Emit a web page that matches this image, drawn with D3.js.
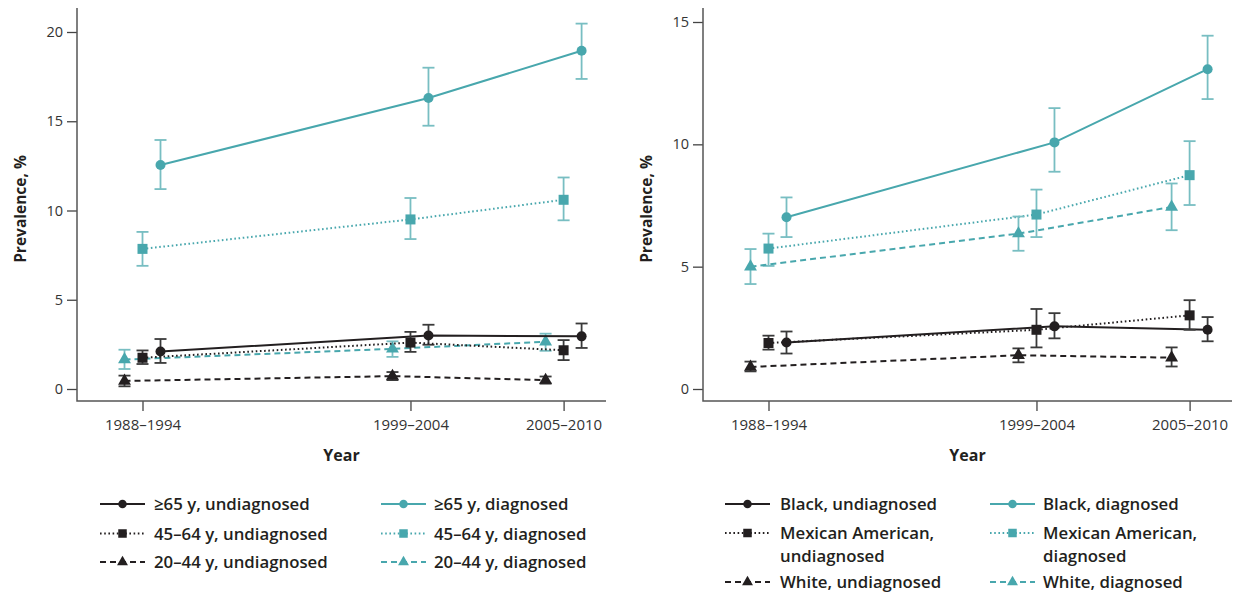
<!DOCTYPE html>
<html><head><meta charset="utf-8">
<script src="https://cdn.jsdelivr.net/npm/d3@7"></script>
<style>
body{margin:0;background:#fff;}
text{font-family:"Open Sans",sans-serif;}
</style>
</head><body>
<svg id="chart" width="1234" height="592"></svg>
<script>
// ---------- data ----------
const periods = ["1988–1994", "1999–2004", "2005–2010"];
const periodMid = [1991, 2001.5, 2007.5];
const leftTicks = [0, 5, 10, 15, 20];
const rightTicks = [0, 5, 10, 15];

// Left panel: age groups
const age65Undiag = [2.1, 3.0, 2.95];
const age65UndiagLo = [1.46, 2.48, 2.3];
const age65UndiagHi = [2.8, 3.6, 3.67];
const age45Undiag = [1.75, 2.6, 2.17];
const age45UndiagLo = [1.4, 2.08, 1.62];
const age45UndiagHi = [2.16, 3.2, 2.74];
const age20Undiag = [0.45, 0.72, 0.5];
const age20UndiagLo = [0.15, 0.5, 0.3];
const age20UndiagHi = [0.75, 0.95, 0.7];
const age65Diag = [12.55, 16.3, 18.95];
const age65DiagLo = [11.2, 14.75, 17.37];
const age65DiagHi = [13.95, 18.0, 20.47];
const age45Diag = [7.85, 9.5, 10.6];
const age45DiagLo = [6.9, 8.4, 9.45];
const age45DiagHi = [8.8, 10.7, 11.85];
const age20Diag = [1.65, 2.25, 2.65];
const age20DiagLo = [1.12, 1.8, 2.14];
const age20DiagHi = [2.2, 2.67, 3.1];

// Right panel: race/ethnicity
const blackUndiag = [1.9, 2.56, 2.42];
const blackUndiagLo = [1.45, 2.07, 1.95];
const blackUndiagHi = [2.35, 3.1, 2.94];
const mexUndiag = [1.88, 2.42, 3.01];
const mexUndiagLo = [1.61, 1.7, 2.42];
const mexUndiagHi = [2.18, 3.27, 3.63];
const whiteUndiag = [0.9, 1.38, 1.28];
const whiteUndiagLo = [0.72, 1.09, 0.92];
const whiteUndiagHi = [1.12, 1.66, 1.7];
const blackDiag = [7.02, 10.08, 13.07];
const blackDiagLo = [6.21, 8.88, 11.85];
const blackDiagHi = [7.83, 11.48, 14.44];
const mexDiag = [5.74, 7.13, 8.74];
const mexDiagLo = [5.03, 6.21, 7.52];
const mexDiagHi = [6.35, 8.15, 10.13];
const whiteDiag = [5.0, 6.35, 7.44];
const whiteDiagLo = [4.29, 5.65, 6.49];
const whiteDiagHi = [5.72, 7.05, 8.4];

const leftLabels = ["≥65 y, undiagnosed", "45–64 y, undiagnosed", "20–44 y, undiagnosed",
                    "≥65 y, diagnosed", "45–64 y, diagnosed", "20–44 y, diagnosed"];
const rightLabels = ["Black, undiagnosed", "Mexican American,\nundiagnosed", "White, undiagnosed",
                     "Black, diagnosed", "Mexican American,\ndiagnosed", "White, diagnosed"];

// ---------- styles ----------
const BLACK = "#231f20", TEAL = "#48a7ad", TEAL_BAR = "#78bec2", BLACK_BAR = "#3a3a3a";
const shapes = {
  circle: {dodge: 18, dash: null},
  square: {dodge: 0, dash: "1.6 2.6"},
  triangle: {dodge: -18, dash: "6 4"}
};

const svg = d3.select("#chart");

function makeSeries(labels, sets) {
  const shp = ["circle", "square", "triangle", "circle", "square", "triangle"];
  return sets.map((s, i) => ({
    label: labels[i], values: s[0], lo: s[1], hi: s[2], shape: shp[i],
    color: i < 3 ? BLACK : TEAL, barColor: i < 3 ? BLACK_BAR : TEAL_BAR
  }));
}

const leftSeries = makeSeries(leftLabels, [
  [age65Undiag, age65UndiagLo, age65UndiagHi],
  [age45Undiag, age45UndiagLo, age45UndiagHi],
  [age20Undiag, age20UndiagLo, age20UndiagHi],
  [age65Diag, age65DiagLo, age65DiagHi],
  [age45Diag, age45DiagLo, age45DiagHi],
  [age20Diag, age20DiagLo, age20DiagHi]
]);
const rightSeries = makeSeries(rightLabels, [
  [blackUndiag, blackUndiagLo, blackUndiagHi],
  [mexUndiag, mexUndiagLo, mexUndiagHi],
  [whiteUndiag, whiteUndiagLo, whiteUndiagHi],
  [blackDiag, blackDiagLo, blackDiagHi],
  [mexDiag, mexDiagLo, mexDiagHi],
  [whiteDiag, whiteDiagLo, whiteDiagHi]
]);

function drawMarker(g, shape, cx, cy, color, scale) {
  if (shape === "circle") {
    g.append("circle").attr("cx", cx).attr("cy", cy).attr("r", 5 * scale).attr("fill", color);
  } else if (shape === "square") {
    const s = 10 * scale;
    g.append("rect").attr("x", cx - s / 2).attr("y", cy - s / 2).attr("width", s).attr("height", s).attr("fill", color);
  } else {
    g.append("path").attr("d", d3.symbol().type(d3.symbolTriangle).size(72 * scale * scale)())
      .attr("transform", `translate(${cx},${cy})`).attr("fill", color);
  }
}

function drawPanel(cfg) {
  const g = svg.append("g");
  const x0 = cfg.x0, top = 8, bottom = 401, width = 529;
  const x = d3.scaleLinear().domain([periodMid[0], periodMid[2]]).range([x0 + 65.5, x0 + 486.6]);
  const y = d3.scaleLinear().domain([0, cfg.yMax]).range([389, cfg.yMaxPx]);

  // axes
  const ya = g.append("g").attr("transform", `translate(${x0},0)`)
    .call(d3.axisLeft(y).tickValues(cfg.ticks).tickSize(10).tickPadding(4));
  ya.select(".domain").remove();
  ya.selectAll("line").attr("stroke", "#444").attr("stroke-width", 1.3);
  ya.selectAll("text").attr("font-size", 14.5).attr("fill", "#333").attr("font-family", "Open Sans");

  const xa = g.append("g").attr("transform", `translate(0,${bottom})`)
    .call(d3.axisBottom(x).tickValues(periodMid).tickFormat((d, i) => periods[i]).tickSize(10).tickPadding(8));
  xa.select(".domain").remove();
  xa.selectAll("line").attr("stroke", "#444").attr("stroke-width", 1.3);
  xa.selectAll("text").attr("font-size", 15).attr("fill", "#333").attr("font-family", "Open Sans");

  g.append("path").attr("d", `M${x0},${top}V${bottom}H${x0 + width}`)
    .attr("fill", "none").attr("stroke", "#555").attr("stroke-width", 1.5);

  g.append("text").attr("x", x0 + width / 2).attr("y", 461)
    .attr("text-anchor", "middle").attr("font-weight", 700).attr("font-size", 16).attr("fill", BLACK)
    .text("Year");
  g.append("text").attr("transform", `translate(${x0 - 56},209) rotate(-90)`)
    .attr("text-anchor", "middle").attr("dy", "0.35em").attr("font-weight", 700).attr("font-size", 15.5).attr("fill", BLACK)
    .text("Prevalence, %");

  // series: teal first then black
  const order = [3, 4, 5, 0, 1, 2];
  order.forEach(k => {
    const s = cfg.series[k];
    const st = shapes[s.shape];
    const px = i => x(periodMid[i]) + st.dodge;
    const sg = g.append("g");
    s.values.forEach((v, i) => {
      const cx = px(i);
      sg.append("line").attr("x1", cx).attr("x2", cx).attr("y1", y(s.lo[i])).attr("y2", y(s.hi[i]))
        .attr("stroke", s.barColor).attr("stroke-width", 1.8);
      [s.lo[i], s.hi[i]].forEach(b => {
        sg.append("line").attr("x1", cx - 6).attr("x2", cx + 6).attr("y1", y(b)).attr("y2", y(b))
          .attr("stroke", s.barColor).attr("stroke-width", 1.8);
      });
    });
    const line = d3.line().x((d, i) => px(i)).y(d => y(d));
    sg.append("path").datum(s.values).attr("d", line).attr("fill", "none")
      .attr("stroke", s.color).attr("stroke-width", 2)
      .attr("stroke-dasharray", st.dash);
    s.values.forEach((v, i) => drawMarker(sg, s.shape, px(i), y(v), s.color, 1));
  });

  // legend
  const lg = g.append("g");
  cfg.series.forEach((s, k) => {
    const col = k < 3 ? 0 : 1, row = k % 3;
    const sx = cfg.legCols[col], tx = cfg.legText[col], ry = cfg.legRows[row];
    const st = shapes[s.shape];
    lg.append("line").attr("x1", sx).attr("x2", sx + 45).attr("y1", ry).attr("y2", ry)
      .attr("stroke", s.color).attr("stroke-width", 2).attr("stroke-dasharray", st.dash);
    drawMarker(lg, s.shape, sx + 22.5, ry, s.color, 0.85);
    s.label.split("\n").forEach((ln, j) => {
      lg.append("text").attr("x", tx).attr("y", ry + j * 23).attr("dy", "0.36em")
        .attr("font-size", 16.8).attr("font-weight", 600).attr("fill", BLACK).text(ln);
    });
  });
}

drawPanel({x0: 77, yMax: 20, yMaxPx: 32, ticks: leftTicks, series: leftSeries,
  legCols: [100, 381], legText: [154, 434], legRows: [504, 533.5, 562]});
drawPanel({x0: 703, yMax: 15, yMaxPx: 22, ticks: rightTicks, series: rightSeries,
  legCols: [725, 990], legText: [780, 1043], legRows: [504, 533, 582]});
</script>
</body></html>
